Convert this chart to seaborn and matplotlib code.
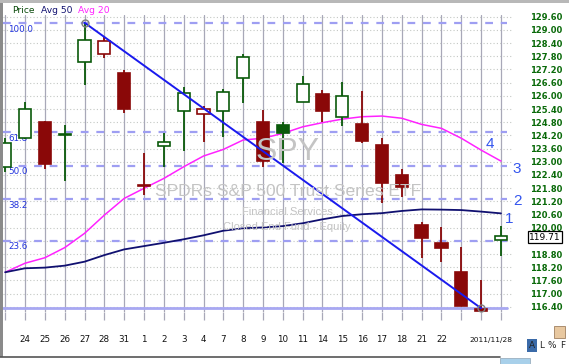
import numpy as np
import pandas as pd
import matplotlib
matplotlib.use("Agg")
import matplotlib.pyplot as plt
import matplotlib.patches as mpatches
import seaborn as sns

# ---------------- data ----------------
day_labels = ["21", "24", "25", "26", "27", "28", "31", "1", "2", "3", "4", "7", "8",
              "9", "10", "11", "14", "15", "16", "17", "18", "21", "22", "23", "25", "28"]
opens = [122.75, 124.07, 124.82, 124.20, 127.52, 127.89, 127.05, 121.95, 123.71, 125.31,
         125.16, 125.31, 126.80, 124.79, 124.66, 125.70, 126.07, 125.05, 124.70, 123.76,
         122.40, 120.12, 119.31, 117.97, 116.28, 119.42]
highs = [124.10, 125.70, 124.85, 124.67, 129.33, 128.69, 127.17, 123.38, 124.29, 126.39,
         125.54, 126.30, 127.89, 125.35, 124.82, 126.90, 126.26, 126.61, 126.22, 124.07,
         122.65, 120.24, 120.01, 119.13, 117.62, 120.07]
lows = [122.55, 124.05, 122.68, 122.14, 126.50, 127.71, 125.23, 121.48, 122.77, 123.50,
        123.91, 124.11, 125.66, 122.77, 122.93, 125.70, 124.82, 124.64, 123.84, 121.13,
        121.41, 118.60, 118.45, 116.45, 116.17, 118.72]
closes = [123.84, 125.40, 122.90, 124.25, 128.54, 128.51, 125.39, 121.88, 123.88, 126.14,
          125.40, 126.17, 127.75, 123.05, 124.29, 126.54, 125.32, 125.98, 123.96, 122.02,
          121.86, 119.54, 119.09, 116.45, 116.22, 119.60]
avg20 = [117.97, 118.38, 118.63, 119.09, 119.74, 120.57, 121.33, 121.79, 122.24, 122.77,
         123.26, 123.56, 123.99, 124.07, 124.29, 124.59, 124.78, 124.94, 125.05, 125.08,
         124.98, 124.70, 124.52, 124.07, 123.53, 123.03]
avg50 = [117.97, 118.15, 118.18, 118.27, 118.45, 118.75, 119.01, 119.16, 119.31, 119.47,
         119.65, 119.86, 119.97, 120.01, 120.07, 120.20, 120.38, 120.53, 120.61, 120.66,
         120.76, 120.83, 120.82, 120.80, 120.73, 120.65]
trend_idx = [4, 24]
trend_val = [129.33, 116.33]
fib_high = 129.30
fib_low = 116.33
fib_levels = [100.0, 61.8, 50.0, 38.2, 23.6, 0.0]
last_price = "119.71"
ytick_vals = [116.4 + 0.6 * k for k in range(23)]

# ---------------- figure ----------------
sns.set_style("white")
plt.rcParams['font.family'] = ['DejaVu Sans']
W, H = 569, 364
fig = plt.figure(figsize=(W / 100, H / 100), dpi=100)
fig.patch.set_facecolor("white")


def fx(x):
    return x / W


def fy(y):
    return 1 - y / H


ax = fig.add_axes([fx(3), 52 / H, 509 / W, 297 / H])
ax.set_facecolor("white")
n = len(closes)
idx = np.arange(n)
df = pd.DataFrame({"i": idx, "open": opens, "high": highs, "low": lows, "close": closes,
                   "avg20": avg20, "avg50": avg50})

ax.set_xlim(-0.111, 25.557)
ax.set_ylim(116.16, 129.68)

# grid lines
for v in ytick_vals:
    ax.axhline(v, color="#c4c8c4", lw=0.8, ls=(0, (1, 2)), zorder=0)
for i in idx:
    ax.axvline(i, color="#a8a8b8", lw=0.9, zorder=0.5)

# fib lines
rng = fib_high - fib_low
for lvl in fib_levels:
    val = fib_low + rng * lvl / 100.0
    if lvl == 0.0:
        ax.axhline(val, xmax=(507 - 3) / 509, color="#a8a8f2", lw=2.0, zorder=1)
    else:
        ax.axhline(val, xmax=(507 - 3) / 509, color="#9e9ef2", lw=1.6,
                   ls=(0, (3.5, 3.5)), zorder=1)
        ax.annotate(f"{lvl:.1f}", xy=(5 / 509, val), xycoords=("axes fraction", "data"),
                    xytext=(0, -4.2), textcoords="offset points", va="center", ha="left",
                    fontsize=6.3, color="#2233dd", zorder=2)

# watermark
wm = "#c4c4c4"
fig.text(fx(288), fy(152), "SPY", fontsize=23, color=wm, ha="center", va="center",
         family="Liberation Sans", zorder=0.6)
fig.text(fx(288), fy(191), "SPDRs S&P 500 Trust Series ETF", fontsize=12.6, color=wm,
         ha="center", va="center", family="Liberation Sans", zorder=0.6)
fig.text(fx(287), fy(212), "Financial Services", fontsize=8, color=wm, ha="center",
         va="center", family="Liberation Sans", zorder=0.6)
fig.text(fx(287), fy(227), "Closed End Fund - Equity", fontsize=8, color=wm, ha="center",
         va="center", family="Liberation Sans", zorder=0.6)

# moving averages
sns.lineplot(data=df, x="i", y="avg20", color="#ff22ff", lw=1.1, ax=ax, legend=False, zorder=3)
sns.lineplot(data=df, x="i", y="avg50", color="#101070", lw=1.3, ax=ax, legend=False, zorder=3)

# candles
RED = "#8a0808"
GREEN = "#0a5a0a"
bw = 0.62
for i in idx:
    o, h, l, c = opens[i], highs[i], lows[i], closes[i]
    prev = closes[i - 1] if i > 0 else o
    col = RED if (i > 0 and c < prev) else GREEN
    filled = c < o
    ax.vlines(i, l, h, color=col, lw=1.3, zorder=4)
    lo, hi = min(o, c), max(o, c)
    ax.bar(i, max(hi - lo, 0.02), bottom=lo, width=bw,
           color=(col if filled else "white"), edgecolor=col, lw=1.2, zorder=5)

# trend line
ax.plot(trend_idx, trend_val, color="#1a1aee", lw=1.4, zorder=6)
ax.plot(trend_idx, trend_val, ls="none", marker="o", ms=5, mfc="none", mec="#808080",
        mew=1.0, zorder=7)

# axes styling
for s in ax.spines.values():
    s.set_visible(False)
ax.yaxis.tick_right()
ax.set_yticks(ytick_vals)
ax.set_yticklabels([f"{v:.2f}" for v in ytick_vals], fontweight="bold")
ax.tick_params(axis="y", length=0, pad=13, labelsize=6.0, labelcolor="#0a6a0a")
ax.set_xticks(idx)
xl = [lab if 1 <= i <= 22 else "" for i, lab in enumerate(day_labels)]
ax.set_xticklabels(xl)
ax.tick_params(axis="x", bottom=True, length=6, width=0.9, color="#a8a8b8", pad=10.5,
               labelsize=6.3, labelcolor="#111111")
ax.set_xlabel("")
ax.set_ylabel("")
ax.grid(False)

fig.text(fx(491), fy(340), "2011/11/28", fontsize=5.4, color="#111111", ha="center",
         va="center")

# legend texts
fig.text(fx(12), fy(10.5), "Price", fontsize=6.6, color="#0a4a0a", va="center")
fig.text(fx(41), fy(10.5), "Avg 50", fontsize=6.6, color="#101070", va="center")
fig.text(fx(78), fy(10.5), "Avg 20", fontsize=6.6, color="#ff22ff", va="center")

# numbered labels
for s, x, y in [("4", 490, 144), ("3", 517, 169), ("2", 517, 201), ("1", 509, 219)]:
    fig.text(fx(x), fy(y), s, fontsize=11, color="#3355ee", ha="center", va="center",
             family="Liberation Sans")

# last price box
fig.text(fx(545), fy(237), last_price, fontsize=6.6, color="black", ha="center", va="center",
         bbox=dict(boxstyle="square,pad=0.12", fc="white", ec="black", lw=0.9), zorder=10)

# frame decorations
fig.add_artist(mpatches.Rectangle((0, fy(357)), fx(3), 1 - fy(357), transform=fig.transFigure,
                                  fc="#8a8a8a", ec="none"))
fig.add_artist(mpatches.Rectangle((0, fy(3)), 1, 3 / H, transform=fig.transFigure,
                                  fc="#b8b8b8", ec="none"))
fig.add_artist(plt.Line2D([0, fx(500)], [fy(357), fy(357)], transform=fig.transFigure,
                          color="#555555", lw=1.2))
fig.add_artist(mpatches.Rectangle((fx(500), 0), 30 / W, 6 / H, transform=fig.transFigure,
                                  fc="#a8d0ea", ec="#9ab0c0", lw=0.6))
fig.add_artist(mpatches.Rectangle((fx(527), fy(352)), 10 / W, 13 / H, transform=fig.transFigure,
                                  fc="#3a6aa8", ec="none"))
for s, x in [("A", 532), ("L", 542), ("%", 552), ("F", 563)]:
    fig.text(fx(x), fy(346), s, fontsize=6.4, color="#222222", ha="center", va="center")
fig.add_artist(mpatches.Rectangle((fx(554), fy(338)), 11 / W, 12 / H, transform=fig.transFigure,
                                  fc="#e8c8a0", ec="#a08060", lw=0.6))

fig.savefig("out.png", dpi=100)
